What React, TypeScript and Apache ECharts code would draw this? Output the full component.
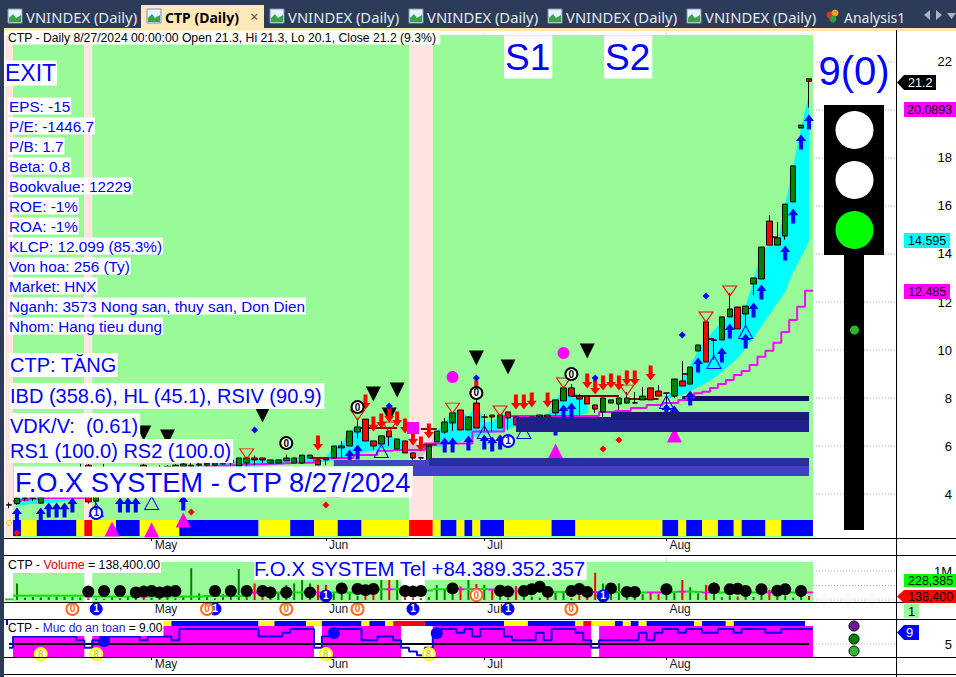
import React, { useEffect, useRef } from "react";
import * as echarts from "echarts";

// ---- data: every bar from index -1 to 100 (bar 100 = 8/27/2024) ----
const firstBar = -1;
const candles: number[][] = [
  [3.54,3.55,3.4,3.65],[3.6,3.83,3.55,3.85],[3.82,3.84,3.7,3.9],[3.82,3.84,3.7,3.9],[3.62,3.85,3.6,3.9],
  [3.9,4.1,3.85,4.2],[4.1,4.2,4.0,4.3],[4.2,4.35,4.1,4.5],[4.3,4.6,4.2,4.8],[4.6,5.0,4.5,5.25],
  [5.2,3.67,3.6,5.25],[3.7,4.0,3.6,4.2],[4.0,4.5,3.9,5.25],[4.5,4.7,4.4,4.9],[4.6,4.8,4.5,5.0],
  [4.8,4.9,4.6,5.1],[4.9,5.0,4.7,5.1],[5.2,4.9,4.7,5.25],[4.9,5.0,4.8,5.1],[5.0,5.1,4.9,5.2],
  [5.05,5.15,4.9,5.2],[5.1,5.2,5.0,5.25],[5.15,5.25,5.0,5.3],[5.15,5.2,5.0,5.3],[5.2,5.25,5.1,5.3],
  [5.2,5.28,5.1,5.3],[5.2,5.3,5.15,5.35],[5.25,5.35,5.2,5.4],[5.3,5.42,5.2,5.45],
  [5.17,5.5,5.17,5.5],[5.29,5.5,5.15,5.55],[5.5,5.42,5.2,5.6],[5.5,5.42,5.3,5.5],[5.29,5.42,5.25,5.42],[5.29,5.42,5.29,5.42],
  [5.38,5.5,5.38,5.65],[5.29,5.5,5.29,5.5],[5.29,5.62,5.25,5.62],[5.5,5.62,5.5,5.62],[5.42,5.21,5.21,5.42],
  [5.5,5.42,5.21,5.5],[5.5,6.0,5.5,6.0],[5.92,6.0,5.5,6.2],[6.0,6.62,6.0,6.62],[6.58,6.79,6.33,7.17],
  [7.12,6.21,6.21,7.12],[6.21,6.0,5.83,6.21],[6.08,6.42,6.08,6.42],[6.62,6.38,6.0,6.62],[5.88,6.29,5.88,6.29],
  [6.21,5.71,5.71,6.21],[5.71,5.5,5.21,5.71],[5.5,5.51,5.21,5.51],[5.38,6.0,5.38,6.0],[6.17,6.62,6.17,6.62],
  [6.58,7.0,6.5,7.17],[6.96,7.38,6.62,7.38],[7.5,6.67,6.67,7.5],[6.67,7.21,6.67,7.25],[7.79,6.75,6.75,7.95],
  [7.2,7.21,6.62,7.33],[7.29,7.21,6.62,7.29],[6.75,7.29,6.75,7.29],[7.42,7.17,6.67,7.42],[7.21,6.88,6.88,7.21],
  [7.12,7.13,7.0,7.25],[6.88,7.21,6.88,7.21],[7.21,7.29,6.96,7.29],[7.29,7.21,7.21,7.29],[7.38,7.92,7.21,7.92],
  [7.88,8.42,7.88,8.42],[8.42,8.08,8.08,8.58],[8.08,7.96,7.29,8.17],[8.08,7.75,7.75,8.08],[7.71,7.54,7.38,7.71],
  [7.42,8.0,7.17,8.0],[7.79,7.92,7.79,7.92],[7.75,8.0,7.5,8.0],[7.79,8.0,7.75,8.25],[7.79,7.8,7.75,8.25],
  [7.92,8.08,7.92,8.46],[8.42,7.92,7.92,8.42],[8.29,8.08,8.08,8.54],[8.2,8.21,7.5,8.21],[8.08,8.79,8.0,8.79],
  [8.71,8.5,8.5,9.54],[8.58,9.29,8.58,9.29],[9.96,10.21,9.96,10.21],[11.17,9.5,9.5,11.17],[10.4,10.42,9.6,10.42],
  [10.42,11.38,10.42,11.38],[11.38,11.71,11.38,12.38],[11.79,10.88,10.88,11.8],[11.5,11.83,10.96,11.83],[12.75,13.0,12.29,13.0],
  [12.96,14.29,12.96,14.29],[15.37,14.37,14.37,15.62],[14.37,14.67,14.37,15.33],[14.75,16.08,14.6,16.08],[16.17,17.67,16.17,17.67],
  [19.25,19.37,19.25,19.37],[21.3,21.2,20.1,21.3],
];
const ribbonUpper: (number | null)[] = [
  null,3.85,3.85,3.88,3.9,4.0,4.1,4.2,4.4,4.6,4.6,4.0,4.4,4.6,4.7,4.8,4.9,5.0,5.0,5.0,5.1,5.1,5.2,5.2,5.2,5.2,5.25,5.3,5.35,5.4,
  5.45,5.45,5.45,5.42,5.42,5.5,5.5,5.6,5.62,5.5,5.5,6.0,6.1,6.6,6.9,6.5,6.1,6.3,6.4,6.3,6.2,6.2,6.0,6.0,6.6,7.0,7.4,7.5,7.2,7.8,
  7.0,7.0,7.3,7.4,7.2,7.15,7.2,7.3,7.3,7.9,8.4,8.4,8.05,7.8,null,null,null,null,null,null,null,null,null,
  8.0,8.42,8.83,9.33,10,10.42,10.83,11.17,11.42,11.58,11.83,12.92,14.17,14.33,14.46,16.08,17.67,19.25,20.7,
];
const ribbonLower: (number | null)[] = [
  null,3.5,3.55,3.58,3.6,3.62,3.65,3.7,3.75,3.8,3.85,3.9,3.95,4.0,4.1,4.15,4.2,4.3,4.35,4.4,4.45,4.5,4.6,4.65,4.7,4.75,4.8,4.85,4.9,5.0,
  5.05,5.1,5.15,5.2,5.22,5.25,5.3,5.3,5.3,5.32,5.34,5.4,5.45,5.55,5.7,5.75,5.8,5.9,5.9,5.85,5.7,5.6,5.5,5.9,5.96,6.0,6.1,6.2,6.3,6.4,
  6.5,6.55,6.6,6.7,6.8,6.9,7.0,7.05,7.1,7.15,7.2,7.25,7.3,7.35,null,null,null,null,null,null,null,null,null,
  7.96,8.04,8.12,8.29,8.46,8.62,8.83,9.08,9.37,9.67,10.08,10.5,11,11.46,11.96,12.42,13.25,13.87,14.5,
];
const ribbonGreyBars = [49, 53];
const magentaLine: (number | null)[] = [
  null,3.7,3.75,3.8,3.83,3.83,3.83,3.83,3.83,3.83,4.0,4.1,4.2,4.3,4.4,4.5,4.6,4.7,4.8,4.85,4.9,4.95,5.0,5.05,5.1,5.12,5.15,5.18,5.2,5.22,
  5.23,5.24,5.25,5.26,5.27,5.28,5.3,5.3,5.3,5.5,5.5,5.5,5.5,5.5,5.62,5.62,5.62,5.8,5.8,5.83,5.83,5.83,5.83,6.1,6.1,6.1,6.1,6.1,6.1,6.6,
  6.6,6.6,6.6,7.25,7.25,7.25,7.25,7.25,7.25,7.25,7.25,7.25,7.25,7.25,7.25,7.42,7.42,7.46,7.46,7.58,7.58,7.71,7.71,7.79,7.79,7.92,8.05,
  8.2,8.26,8.42,8.58,8.75,8.96,9.12,9.37,9.72,9.97,10.3,10.75,11.25,11.8,12.47,
];
const statusStrip = "NBYYBBBBBYRYYYBBBYYYYYBBBBBBBBBBYYYYBBBYYYBBBYYYYYYRRRYBBYBYBBBYYYYYYBBBYYYYYYYYYYYBBYBBYYBBYBBBYYBBBB";
const safetyStrip = "NBYYBBBBBYRYYYBBBYYYYBBBBBBBBBBBYYBBBBYYBBBBBYBBYRRRRBBBBBBBBBBYYYBBBBBBYRYYYBYBYBBBBBBYBBBYBBBBBBBBB";
const priceGapBars = [-1, 9, 50, 51, 52];
const volumeGapBars = [-1, 9, 49, 50, 51];
const safetyGapBars = [-1, 9, 38, 49, 50, 51, 52, 73];
const priceZones: any[][] = [
  [84, 100, 7.875, 8.083, "#10106a", 0],
  [63, 100, 6.58, 7.21, "#20208c", 1],
  [75, 100, 7.08, 7.42, "#1a1a78", 1],
  [40, 52, 5.17, 5.42, "#4545c0", 1],
  [52, 100, 5.17, 5.5, "#2c2c9c", 1],
  [50, 100, 4.75, 5.17, "#4040c8", 1],
];
const stopSegments: number[][] = [
  [37, 39, 5.5], [43, 48, 6.75], [51, 53, 6.05], [51, 53, 6.71], [70, 76, 8.08], [77, 81, 7.96], [84, 85, 9.0], [87, 88, 10.46], [95, 96, 14.7],
];
const blueArrows = [[0,3.125],[3,3.125],[4,3.33],[5,3.33],[6,3.33],[7,3.54],[13,3.54],[14,3.54],[15,3.54],[21,3.625],[42,5.54],[43,5.75],[54,6.04],[55,6.04],[57,6.125],[59,6.17],[60,6.08],[61,6.17],[69,7.42],[70,7.5],[68,6.75],[82,7.46],[83,7.375],[85,8.0],[86,9.375],[89,9.79],[90,10.79],[92,10.375],[93,11.67],[94,12.42],[97,14.04],[98,15.58],[99,18.67],[100,19.5]];
const redArrows = [[38,6.125],[44,7.83],[45,6.92],[46,7.04],[47,7.29],[48,7.125],[49,6.83],[50,6.33],[51,6.08],[52,6.625],[58,8.42],[63,7.83],[64,7.83],[65,7.92],[67,7.92],[72,8.71],[73,8.46],[74,8.625],[75,8.71],[76,8.625],[77,8.83],[78,8.83],[80,9.04]];
const hollowUp = [[10,3.33],[17,3.625],[46,5.79],[59,6.58],[64,6.58],[82,7.83],[88,9.5],[92,10.75]];
const hollowDown = [[29,5.67],[43,7.29],[47,6.79],[55,7.58],[61,7.46],[69,8.625],[77,8.33],[87,11.375],[90,12.46]];
const blackDown = [[16,6.54],[19,6.375],[31,7.29],[45,8.17],[48,8.33],[47,7.29],[58,9.67],[62,9.29],[72,9.96]];
const blueDiamonds = [[30,6.67],[47,7.67],[58,8.83],[73,8.83],[84,10.625],[87,12.25]];
const redDiamonds = [[0,2.375],[12,2.58],[22,3.25],[39,3.54],[74,5.875],[76,6.25]];
const magentaUp = [[12,2.54],[17,2.5],[21,2.92],[40,4.17],[68,5.79],[83,6.46]];
const magentaDots = [[55,8.875],[69,9.875]];
const magentaSquares = [[50,6.75]];
const zeroMarks = [[34,6.125],[43,7.625],[58,8.21],[70,9.0]];
const oneMarks = [[10,3.21],[62,6.21]];
const volumes = [.02,.57,.08,.1,.09,.1,.12,.12,.1,.09,.06,.05,.04,.1,.06,.14,.1,.1,.08,.1,.08,.06,.12,1.1,.23,.1,.05,.2,.15,1.07,.25,.57,.3,.25,.28,.52,.57,.69,.57,.52,.52,.23,.23,.23,.15,.17,.28,.69,.69,.69,.1,.06,.06,.1,.52,.35,.52,.46,.69,.55,.52,.35,.2,.06,.48,.1,.12,.08,.1,.25,.3,.06,.2,.1,.94,.57,.25,.57,.2,.1,.2,.25,.2,.25,.28,.69,.44,.23,.52,.2,.1,.15,.12,.25,.1,.2,.35,.12,.15,.08,.2,.14];
const volumeAverage = [.02,.15,.15,.15,.15,.15,.15,.15,.15,.15,.12,.12,.12,.12,.12,.12,.12,.12,.12,.12,.12,.12,.12,.12,.12,.14,.14,.14,.14,.14,.14,.25,.25,.25,.25,.25,.26,.26,.26,.26,.26,.26,.26,.26,.26,.3,.37,.37,.37,.37,.3,.3,.3,.33,.37,.37,.37,.37,.38,.38,.38,.36,.34,.3,.3,.3,.3,.3,.28,.28,.28,.28,.28,.28,.27,.27,.27,.27,.27,.26,.26,.26,.26,.26,.28,.29,.29,.28,.26,.26,.26,.26,.26,.26,.26,.26,.26,.26,.26,.26,.26,.26];
const volumeDots = [[9,.29],[11,.31],[13,.31],[15,.26],[16,.29],[17,.31],[18,.26],[19,.29],[20,.31],[25,.31],[27,.31],[29,.31],[31,.31],[32,.26],[34,.26],[37,.26],[41,.4],[43,.38],[44,.34],[45,.38],[49,.31],[50,.29],[51,.31],[55,.4],[61,.32],[62,.29],[64,.31],[65,.37],[66,.46],[67,.28],[70,.31],[71,.38],[72,.28],[75,.4],[77,.28],[78,.28],[82,.37],[88,.4],[90,.37],[91,.39],[92,.31],[94,.37],[96,.32],[97,.37],[99,.31]];
const volumeOnes = [[39,.14],[74,.14],[10,-.31],[25,-.31],[50,-.31],[62,-.31]];
const volumeZeros = [[58,.17],[7,-.31],[24,-.31],[34,-.31],[43,-.31],[70,-.31]];
const safetyLevels = [4,7,7,7,7,7,7,7,7,6,4,6,7,7,7,7,7,6,7,7,7,6,9,9,9,9,9,9,9,9,9,9,7,7,7,8,9,9,9,4,7,9,9,9,9,6,6,7,7,6,4,3,2,4,7,9,9,8,9,7,9,9,9,7,6,6,6,8,6,9,9,9,8,6,4,6,6,6,6,6,8,6,8,9,9,8,9,9,8,8,9,9,8,9,9,9,8,8,9,9,9,9];
const safetyDots = [[11,5.8],[40,7.9],[53,7.9]];
const safetyEights = [[3,2.33],[10,2.33],[39,2.33],[52,2.33]];
const safetyClippedBlack = [[4,-3.53]];
const safetyClippedOnes = [[10,-3.53],[25,-3.53],[39,-3.53],[50,-3.53],[62,-3.53],[74,-3.53]];
const safetyClippedZeros = [[7,-3.53],[24,-3.53],[34,-3.53],[43,-3.53],[58,-3.53],[70,-3.53]];
const monthBars = [17, 39, 59, 82];
const monthNames = ["May", "Jun", "Jul", "Aug"];
const priceTicks = [4, 6, 8, 10, 12, 14, 16, 18, 20, 22];
const priceLabelTicks = [4, 6, 8, 10, 12, 14, 16, 18, 22];
const volumeTicks = [0, 0.5, 1];
const volumeLabelTicks = [1];
const safetyTicks = [5];
const infoLines = ["EPS: -15","P/E: -1446.7","P/B: 1.7","Beta: 0.8","Bookvalue: 12229","ROE: -1%","ROA: -1%","KLCP: 12.099 (85.3%)","Von hoa: 256 (Ty)","Market: HNX","Nganh: 3573 Nong san, thuy san, Don Dien","Nhom: Hang tieu dung"];

// ---- drawing helpers ----
const XMIN = -1.6414, XMAX = 110.985;
const STRIP: Record<string, string> = { Y: "#ffff00", B: "#0000ff", R: "#ff0000" };
const AR = "'Liberation Sans', Arial, sans-serif";
const TAB = "'Noto Sans', sans-serif";
const ARROW_UP = "path://M5 0L10 7L7 7L7 16L3 16L3 7L0 7Z";
const ARROW_DOWN = "path://M3 0L7 0L7 9L10 9L5 16L0 9L3 9Z";
const TRI_DOWN = "path://M0 0L10 0L5 10Z";
const isUp = (i: number) => { const c = candles[i - firstBar]; return c[1] >= c[0]; };

function runs(colorAt: (i: number) => string, y0: number, y1: number): any[][] {
  const out: any[][] = [];
  let start = firstBar;
  for (let i = firstBar; i <= 100; i++) {
    if (i === 100 || colorAt(i + 1) !== colorAt(i)) {
      const c = colorAt(i);
      if (c) out.push([start - 0.5, i + 0.5, y0, y1, c]);
      start = i + 1;
    }
  }
  return out;
}
function rectSeries(name: string, items: any[][], ax: number, z: number) {
  return {
    type: "custom", name, xAxisIndex: ax, yAxisIndex: ax, z, silent: true, clip: true,
    data: items.map((d) => [d[0], d[2]]),
    renderItem: (p: any, api: any) => {
      const [x0, x1, y0, y1, c] = items[p.dataIndex];
      const a = api.coord([x0, y1]), b = api.coord([x1, y0]);
      return { type: "rect", shape: { x: a[0], y: a[1], width: b[0] - a[0], height: b[1] - a[1] }, style: { fill: c } };
    },
  };
}
function dotted(name: string, ax: number, items: number[][]) {
  return {
    type: "custom", name, xAxisIndex: ax, yAxisIndex: ax, z: 1, silent: true, clip: true,
    data: items.map((d) => [d[0], d[1]]),
    renderItem: (p: any, api: any) => {
      const d = items[p.dataIndex];
      const a = api.coord([d[0], d[1]]), b = api.coord([d[2], d[3]]);
      return { type: "line", shape: { x1: a[0], y1: a[1], x2: b[0], y2: b[1] }, style: { stroke: "#b0b0b0", lineWidth: 1, lineDash: [1, 2] } };
    },
  };
}
function scatter(name: string, data: number[][], ax: number, symbol: string, size: any, color: string, z: number, extra: any = {}) {
  return { type: "scatter", name, data, xAxisIndex: ax, yAxisIndex: ax, symbol, symbolSize: size, z, silent: true, itemStyle: { color, opacity: 1, ...(extra.itemStyle || {}) }, label: extra.label, clip: extra.clip ?? false, symbolRotate: extra.rotate };
}
const digit = (text: string, color: string, size = 10) => ({ show: true, position: "inside", formatter: text, color, fontSize: size, fontWeight: "bold", fontFamily: AR });
const ring = (c: string, w = 2) => ({ borderColor: c, borderWidth: w });
function xAxis(gridIndex: number, offset: number) {
  return {
    type: "value", gridIndex, min: XMIN, max: XMAX, offset, position: "bottom",
    axisLine: { show: false }, splitLine: { show: false },
    axisTick: { show: true, length: 3, customValues: monthBars, lineStyle: { color: "#000" } },
    axisLabel: {
      show: true, customValues: monthBars, align: "left", margin: 1, padding: [0, 0, 0, 3], fontSize: 12, color: "#1a1a2a", fontFamily: AR,
      formatter: (v: number) => monthNames[monthBars.indexOf(Math.round(v))] ?? "",
    },
  };
}
function yAxis(gridIndex: number, min: number, max: number, ticks: number[], labels: number[], fmt: (v: number) => string) {
  return {
    type: "value", gridIndex, min, max, position: "right", scale: true,
    axisLine: { show: false }, splitLine: { show: false },
    axisTick: { show: true, length: 5, customValues: ticks, lineStyle: { color: "#000" } },
    axisLabel: { show: true, customValues: labels, align: "right", margin: 56, fontSize: 13, color: "#000", fontFamily: AR, formatter: fmt },
  };
}

// overlay elements (chart furniture and annotations)
const txt = (text: string, x: number, y: number, font: string, fill: string, bg?: string, pad: number[] = [0, 0, 0, 0], align = "left", rich?: any) => ({
  type: "text", x, y, z: 100, silent: true,
  style: { text, font, fill, backgroundColor: bg, padding: pad, align, verticalAlign: "middle", rich },
});
const box = (x: number, y: number, w: number, h: number, fill: string, z = 90) => ({ type: "rect", z, silent: true, shape: { x, y, width: w, height: h }, style: { fill } });
const ln = (x1: number, y1: number, x2: number, y2: number, stroke = "#000", w = 1) => ({ type: "line", z: 95, silent: true, shape: { x1, y1, x2, y2 }, style: { stroke, lineWidth: w } });
const dot = (cx: number, cy: number, r: number, fill: string, stroke?: string) => ({ type: "circle", z: 96, silent: true, shape: { cx, cy, r }, style: { fill, stroke, lineWidth: stroke ? 1 : 0 } });
const tag = (x0: number, x1: number, y0: number, y1: number, fill: string) => ({
  type: "polygon", z: 96, silent: true,
  shape: { points: [[x0, (y0 + y1) / 2], [x0 + 7, y0], [x1, y0], [x1, y1], [x0 + 7, y1]] }, style: { fill },
});
function tabIcon(x: number) {
  return [
    { type: "rect", z: 92, silent: true, shape: { x, y: 9, width: 14, height: 14 }, style: { fill: "#e8f2fb", stroke: "#7f93ad", lineWidth: 1 } },
    { type: "polygon", z: 93, silent: true, shape: { points: [[x + 1, 22], [x + 1, 18], [x + 5, 14], [x + 8, 18], [x + 13, 15], [x + 13, 22]] }, style: { fill: "#3aa24a" } },
  ];
}
const tabs = [
  [8, "VNINDEX (Daily)"], [270, "VNINDEX (Daily)"], [409, "VNINDEX (Daily)"], [548, "VNINDEX (Daily)"], [687, "VNINDEX (Daily)"],
] as [number, string][];
const PRICE_TAG = `12.5px ${AR}`;
const graphicElements: any[] = [
  box(0, 0, 956, 28, "#2c3b58"),
  box(0, 28, 956, 3, "#ffe6b0"),
  box(0, 28, 4, 649, "#2c3b58"),
  box(141, 5, 123, 24, "#ffe9b8"),
  ...tabs.flatMap(([x, t]) => [...tabIcon(x), txt(t, x + 18, 17, `14.8px ${TAB}`, "#e4e9f2")]),
  ...tabIcon(147),
  txt("CTP (Daily)", 165, 17, `bold 14px ${TAB}`, "#000"),
  txt("×", 250, 16, `15px ${TAB}`, "#555"),
  dot(830, 15, 3.5, "#e03030"), dot(835, 13, 3.5, "#f0a020"), dot(833, 19, 3.5, "#30a040"),
  txt("Analysis1", 844, 17, `14px ${TAB}`, "#e4e9f2"),
  { type: "polygon", z: 96, silent: true, shape: { points: [[924, 15], [930, 10], [930, 20]] }, style: { fill: "#aab4c4" } },
  { type: "polygon", z: 96, silent: true, shape: { points: [[936, 10], [936, 20], [942, 15]] }, style: { fill: "#aab4c4" } },
  { type: "polygon", z: 96, silent: true, shape: { points: [[947, 13], [956, 13], [951.5, 19]] }, style: { fill: "#aab4c4" } },
  ...[538, 555, 602, 619, 657, 674].map((y) => ln(4, y + 0.5, 956, y + 0.5, "#000", 1)),
  ln(896.5, 30, 896.5, 677, "#000", 1),
  txt("CTP - Daily 8/27/2024 00:00:00 Open 21.3, Hi 21.3, Lo 20.1, Close 21.2 (9.3%)", 8, 37.5, `12.2px ${AR}`, "#000", "#fff", [1, 4, 1, 0]),
  txt("S1", 504, 57, `37px ${AR}`, "#0000ff", "#fff", [3, 2, 3, 1]),
  txt("S2", 604, 57, `37px ${AR}`, "#0000ff", "#fff", [3, 2, 3, 1]),
  txt("EXIT", 4, 73, `23px ${AR}`, "#0000ff", "#fff", [1, 1, 1, 1]),
  ...infoLines.map((t, i) => txt(t, 8, 106 + i * 20, `15.3px ${AR}`, "#0000ff", "#fff", [1, 1, 1, 1])),
  txt("CTP: TĂNG", 9, 365, `20px ${AR}`, "#0000ff", "#fff", [2, 1, 2, 1]),
  txt("IBD (358.6), HL (45.1), RSIV (90.9)", 10, 396, `20px ${AR}`, "#0000ff", "#fff", [3, 2, 3, 0]),
  txt("VDK/V:  (0.61)", 10, 426, `20px ${AR}`, "#0000ff", "#fff", [3, 2, 3, 0]),
  txt("RS1 (100.0) RS2 (100.0)", 10, 451, `20px ${AR}`, "#0000ff", "#fff", [2, 2, 2, 0]),
  txt("F.O.X SYSTEM - CTP 8/27/2024", 14, 482, `27.3px ${AR}`, "#0000ff", "#fff", [2, 1, 2, 1]),
  txt("9(0)", 854, 71, `40px ${AR}`, "#0000ff", undefined, [0, 0, 0, 0], "center"),
  box(824, 105, 60, 150, "#000"), box(844, 255, 20, 275, "#000"),
  dot(854.5, 130, 19, "#fff"), dot(854.5, 180, 19, "#fff"), dot(854.5, 230, 19, "#00ff00"), dot(854.5, 330, 4.5, "#2db52d"),
  tag(897, 936, 75, 90, "#000"), txt("21.2", 908, 82.5, PRICE_TAG, "#fff"),
  box(904, 102, 52, 15, "#ff00ff"), txt("20.0893", 907, 110, PRICE_TAG, "#000"),
  box(904, 233, 46, 15, "#00ffff"), txt("14.595", 908, 241, PRICE_TAG, "#000"),
  box(904, 284, 46, 15, "#ff00ff"), txt("12.485", 908, 292, PRICE_TAG, "#000"),
  txt("{a|CTP - }{r|Volume}{a| = 138,400.00}", 8, 565, `12.3px ${AR}`, "#000", "#fff", [2, 1, 2, 0], "left", {
    a: { font: `12.3px ${AR}`, fill: "#000" }, r: { font: `12.3px ${AR}`, fill: "#e00000" } }),
  txt("F.O.X SYSTEM Tel +84.389.352.357", 254, 569, `20.4px ${AR}`, "#0000ff", "#fff", [1, 1, 1, 0]),
  box(904, 574, 52, 13, "#00ff00"), txt("228,385", 908, 581, PRICE_TAG, "#000"),
  tag(897, 956, 590, 603, "#ff0000"), txt("138,400", 908, 597, PRICE_TAG, "#000"),
  box(904, 604, 15, 14, "#98fb98"), txt("1", 908, 611, `13px ${AR}`, "#000"),
  txt("{a|CTP - }{b|Muc do an toan}{a| = 9.00}", 8, 628, `12px ${AR}`, "#000", "#fff", [2, 1, 2, 0], "left", {
    a: { font: `12px ${AR}`, fill: "#000" }, b: { font: `12px ${AR}`, fill: "#1a1ae0" } }),
  ln(7, 620, 7, 625, "#0000ff", 2),
  tag(897, 919, 625, 640, "#0000ff"), txt("9", 906, 632.5, `13px ${AR}`, "#fff"),
  dot(854, 626, 5, "#6a1a9a", "#000"), dot(854, 639, 5, "#008000", "#000"), dot(854, 651, 5, "#33b533", "#000"),
];

function buildOption() {
  const ribbonItems: any[][] = [];
  let s = -1;
  const N = 102;
  for (let k = 0; k <= N; k++) {
    const ok = k < N && ribbonUpper[k] != null && ribbonLower[k] != null;
    if (ok && s < 0) s = k;
    if (!ok && s >= 0) { ribbonItems.push([s, k - 1]); s = -1; }
  }
  const pieces: any[][] = [];
  ribbonItems.forEach(([a, b]) => {
    const ga = ribbonGreyBars[0] - firstBar, gb = ribbonGreyBars[1] - firstBar;
    if (a < ga && b > gb) {
      pieces.push([a, ga, "#00ffff"], [ga, gb, "#c8c8c8"], [gb, b, "#00ffff"]);
    } else pieces.push([a, b, "#00ffff"]);
  });
  const series: any[] = [
    dotted("priceGrid", 0, [
      ...priceTicks.map((t) => [100.5, t, XMAX, t]),
      ...monthBars.map((m) => [m, 23.33, m, 23.1]),
    ]),
    rectSeries("priceBackground", runs((i) => (priceGapBars.includes(i) ? "#ffe4e1" : "#98fb98"), 2.21, 23.125), 0, 1),
    rectSeries("statusStrip", runs((i) => STRIP[statusStrip[i - firstBar]] || "", 2.25, 2.917), 0, 2),
    {
      type: "custom", name: "ribbon", xAxisIndex: 0, yAxisIndex: 0, z: 2, silent: true,
      data: pieces.map((p) => [p[0] + firstBar, ribbonUpper[p[0]]]),
      renderItem: (p: any, api: any) => {
        const [a, b, c] = pieces[p.dataIndex];
        const pts: number[][] = [];
        for (let k = a; k <= b; k++) pts.push(api.coord([k + firstBar, ribbonUpper[k]]));
        for (let k = b; k >= a; k--) pts.push(api.coord([k + firstBar, ribbonLower[k]]));
        return { type: "polygon", shape: { points: pts }, style: { fill: c } };
      },
    },
    rectSeries("lowerZones", priceZones.filter((d) => d[5] === 0), 0, 3),
    {
      type: "line", name: "trailLine", xAxisIndex: 0, yAxisIndex: 0, z: 3, silent: true, step: "middle", symbol: "none",
      lineStyle: { color: "#ff00ff", width: 2 }, connectNulls: false,
      data: [...magentaLine.map((v, k) => [k + firstBar, v]), [100.5, 12.47]],
    },
    {
      type: "candlestick", name: "CTP", xAxisIndex: 0, yAxisIndex: 0, z: 4, silent: true, barWidth: 6,
      encode: { x: 0, y: [1, 2, 3, 4] },
      data: candles.map((c, k) => [k + firstBar, ...c]),
      itemStyle: { color: "#008000", color0: "#ff0000", borderColor: "#000", borderColor0: "#000", borderWidth: 1 },
    },
    {
      type: "custom", name: "stops", xAxisIndex: 0, yAxisIndex: 0, z: 4, silent: true,
      data: stopSegments.map((d) => [d[0], d[2]]),
      renderItem: (p: any, api: any) => {
        const d = stopSegments[p.dataIndex];
        const a = api.coord([d[0], d[2]]), b = api.coord([d[1], d[2]]);
        return { type: "line", shape: { x1: a[0], y1: a[1], x2: b[0], y2: b[1] }, style: { stroke: "#8b0000", lineWidth: 2 } };
      },
    },
    scatter("blackDown", blackDown, 0, TRI_DOWN, [15, 15], "#000", 5),
    scatter("hollowUp", hollowUp, 0, "triangle", [14, 13], "rgba(0,0,0,0)", 5, { itemStyle: ring("#0000ff", 1) }),
    scatter("hollowDown", hollowDown, 0, "triangle", [14, 10], "rgba(0,0,0,0)", 5, { itemStyle: ring("#ff0000", 1), rotate: 180 }),
    scatter("blueArrows", blueArrows, 0, ARROW_UP, [10, 15], "#0000ff", 5),
    scatter("redArrows", redArrows, 0, ARROW_DOWN, [10, 15], "#ff0000", 6),
    scatter("blueDiamonds", blueDiamonds, 0, "diamond", 7, "#0000ff", 6),
    scatter("redDiamonds", redDiamonds, 0, "diamond", 7, "#ff0000", 6),
    scatter("magentaUp", magentaUp, 0, "triangle", [15, 15], "#ff00ff", 6),
    scatter("magentaDots", magentaDots, 0, "circle", 12, "#ff00ff", 6),
    scatter("magentaSquares", magentaSquares, 0, "rect", 12, "#ff00ff", 6),
    scatter("zeros", zeroMarks, 0, "circle", 12, "#fff", 6, { itemStyle: ring("#000"), label: digit("0", "#000") }),
    scatter("ones", oneMarks, 0, "circle", 12, "#fff", 6, { itemStyle: ring("#0000ff"), label: digit("1", "#0000ff") }),
    scatter("yellowRing", [[-1, 2.79]], 0, "circle", 5, "rgba(0,0,0,0)", 6, { itemStyle: ring("#e6c800", 1) }),
    rectSeries("upperZones", priceZones.filter((d) => d[5] === 1), 0, 7),

    dotted("volumeGrid", 1, [...volumeTicks.map((t) => [100.5, t, XMAX, t]), ...monthBars.map((m) => [m, 1.55, m, 1.31])]),
    rectSeries("volumeBackground", runs((i) => (volumeGapBars.includes(i) ? "" : "#98fb98"), -0.07, 1.31), 1, 1),
    {
      type: "bar", name: "Volume", xAxisIndex: 1, yAxisIndex: 1, z: 3, silent: true, barWidth: 2,
      data: volumes.map((v, k) => ({ value: [k + firstBar, v], itemStyle: { color: isUp(k + firstBar) ? "#008000" : "#ff0000" } })),
    },
    {
      type: "custom", name: "volumeAverage", xAxisIndex: 1, yAxisIndex: 1, z: 4, silent: true,
      data: volumeAverage.map((v, k) => [k + firstBar, v]),
      renderItem: (p: any, api: any) => {
        const i = p.dataIndex + firstBar, v = volumeAverage[p.dataIndex];
        const a = api.coord([i - 0.5, v]), b = api.coord([i + 0.5, v]);
        return { type: "line", shape: { x1: a[0], y1: a[1], x2: b[0], y2: b[1] }, style: { stroke: isUp(i) ? "#00e000" : "#ff00ff", lineWidth: 2 } };
      },
    },
    scatter("volumeDots", volumeDots, 1, "circle", 12, "#000", 5),
    scatter("volumeOnes", volumeOnes, 1, "circle", 12, "#0000ff", 6, { itemStyle: ring("#0000ff", 1), label: digit("1", "#fff") }),
    scatter("volumeZeros", volumeZeros, 1, "circle", 12, "#fff", 6, { itemStyle: ring("#ff6a1a"), label: digit("0", "#ff6a1a") }),

    rectSeries("safetyBackground", runs((i) => (safetyGapBars.includes(i) ? "" : "#ff00ff"), 1.53, 9.8), 2, 1),
    rectSeries("safetyStrip", runs((i) => STRIP[safetyStrip[i - firstBar]] || "", 9.8, 11.13), 2, 1),
    dotted("safetyGrid", 2, safetyTicks.map((t) => [100.5, t, XMAX, t])),
    {
      type: "line", name: "safetyFive", xAxisIndex: 2, yAxisIndex: 2, z: 3, silent: true, symbol: "none",
      lineStyle: { color: "#000", width: 2 }, data: [[-1, 5], [100, 5]],
    },
    {
      type: "line", name: "safetyLevel", xAxisIndex: 2, yAxisIndex: 2, z: 4, silent: true, step: "middle", symbol: "none",
      lineStyle: { color: "#0a0ae0", width: 2 },
      data: [...safetyLevels.map((v, k) => [k + firstBar, v]), [100.5, 9]],
    },
    scatter("safetyDots", safetyDots, 2, "circle", 12, "#0000ff", 5),
    scatter("safetyEights", safetyEights, 2, "circle", 12, "#fff", 6, { itemStyle: ring("#ffff00"), label: digit("8", "#e0d000") }),
    scatter("safetyBlack", safetyClippedBlack, 2, "circle", 12, "#fff", 6, { itemStyle: ring("#000"), label: digit("0", "#000"), clip: true }),
    scatter("safetyOnes", safetyClippedOnes, 2, "circle", 12, "#0000ff", 6, { itemStyle: ring("#0000ff", 1), label: digit("1", "#fff"), clip: true }),
    scatter("safetyZeros", safetyClippedZeros, 2, "circle", 12, "#fff", 6, { itemStyle: ring("#ff6a1a"), label: digit("0", "#ff6a1a"), clip: true }),
  ];
  return {
    animation: false,
    backgroundColor: "#fff",
    grid: [
      { left: 4, width: 892, top: 30, height: 508, containLabel: false },
      { left: 4, width: 892, top: 555, height: 64, containLabel: false },
      { left: 4, width: 892, top: 619, height: 55, containLabel: false },
    ],
    xAxis: [xAxis(0, 0), xAxis(1, -17), xAxis(2, -17)],
    yAxis: [
      yAxis(0, 2.1667, 23.3333, priceTicks, priceLabelTicks, (v) => String(v)),
      yAxis(1, -0.655, 1.552, [1], volumeLabelTicks, () => "1M"),
      yAxis(2, -3, 11.667, safetyTicks, safetyTicks, (v) => String(v)),
    ],
    series,
    graphic: { elements: graphicElements },
  };
}

export default function App() {
  const ref = useRef<HTMLDivElement>(null);
  useEffect(() => {
    document.body.style.margin = "0";
    const chart = echarts.init(ref.current!, undefined, { renderer: "svg" });
    chart.setOption(buildOption() as any);
    return () => chart.dispose();
  }, []);
  return <div ref={ref} style={{ position: "absolute", left: 0, top: 0, width: 956, height: 677 }} />;
}
